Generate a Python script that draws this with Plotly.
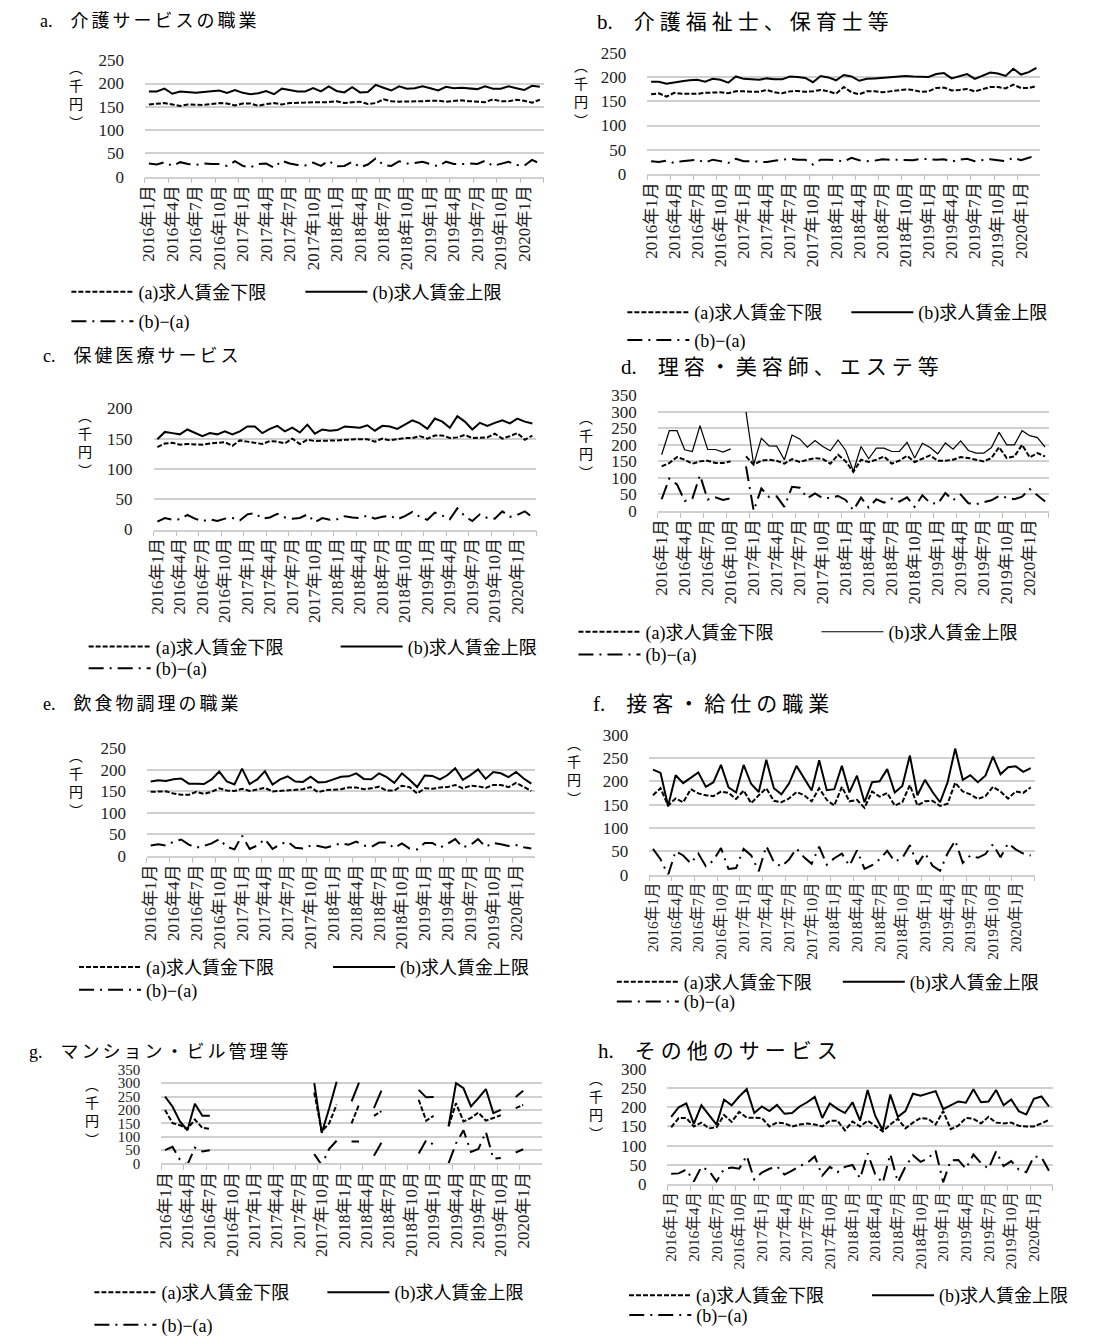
import plotly.graph_objects as go

W, H = 1110, 1344

months = [f"{y}年{m}月" for y in range(2016, 2021) for m in range(1, 13)][:51]

# ---------------- data (千円) ----------------
a_low = [155,157,158,155,152,155,155,154,156,158, 157,153,157,157,152,156,158,155,158,158,
         159,160,160,160,162,158,160,161,156,158, 166,162,161,161,161,162,163,163,161,163,
         164,162,161,160,166,162,162,165,163,159, 165]
a_high = [183,183,189,178,183,182,180,182,183,185, 180,186,180,177,179,184,177,189,186,183,
          183,190,183,194,184,181,192,181,182,197, 191,185,194,189,190,194,190,185,193,190,
          191,190,188,194,189,189,194,190,186,195, 193]

b_low = [165,167,160,168,166,166,166,168,168,169, 167,171,171,170,170,174,169,167,171,172,
         170,171,174,171,166,180,169,165,171,171, 169,171,173,175,174,170,171,178,179,173,
         174,176,171,176,180,180,177,185,178,178, 182]
b_high = [191,191,187,190,192,194,195,191,197,195, 189,202,197,196,195,198,196,196,202,201,
          199,190,203,200,194,205,202,193,197,198, 199,200,202,203,202,201,201,207,209,198,
          203,207,197,204,210,208,203,218,206,211, 220]

c_low = [136,142,143,140,141,141,140,142,143,144, 138,147,145,143,141,146,145,142,150,141,
         148,146,146,147,147,148,149,149,149,145, 150,147,149,151,151,154,150,155,155,151,
         152,156,151,151,152,158,150,154,159,148, 155]
c_high = [149,161,159,157,165,159,154,159,157,162, 157,162,170,170,159,166,171,162,168,160,
          173,158,165,163,164,170,169,168,172,163, 171,170,166,173,180,175,166,183,178,168,
          187,178,165,176,171,176,180,175,183,178, 175]

d_low = [135,145,163,155,143,150,152,145,145,150, None,165,140,152,155,152,143,157,148,155,
         160,157,143,170,150,118,155,148,155,165, 143,152,167,148,158,168,152,152,155,163,
         160,155,150,160,193,160,165,200,162,175, 165]
d_high = [170,243,243,185,180,258,186,186,178,188, None,300,140,220,197,196,155,230,218,193,
          213,195,182,215,183,120,195,158,190,190, 180,180,208,160,205,192,173,206,187,212,
          183,175,175,192,238,200,200,243,228,222, 193]

e_low = [149,149,150,145,142,142,149,144,149,157, 152,151,156,151,154,158,150,151,152,154,
         155,160,148,153,154,155,159,159,155,157, 161,152,152,163,160,145,157,156,159,160,
         165,157,163,162,158,165,165,160,170,160, 151]
e_high = [173,176,174,178,180,168,168,167,178,196, 173,166,203,167,178,197,166,178,185,173,
          172,184,171,172,178,184,185,192,179,178, 192,183,170,192,177,160,187,186,178,188,
          204,177,188,201,179,195,192,183,195,180, 168]

f_low = [170,185,148,163,155,183,174,170,168,178, 175,162,180,153,170,185,158,155,163,177,
         170,157,185,160,148,188,157,160,143,178, 167,175,148,155,192,148,157,158,147,152,
         197,178,172,162,168,188,178,163,178,175, 187]
f_high = [225,218,147,213,196,207,219,188,198,235, 187,176,235,194,177,246,185,172,195,233,
          207,180,245,181,183,233,176,212,155,198, 200,226,176,190,255,170,203,177,155,198,
          270,203,213,198,212,253,215,230,232,220, 228]

g_low = [200,151,143,129,164,133,129,None,None,None, None,None,None,None,None,None,None,None,None,None,
         265,120,150,220,None,150,220,None,178,195, None,None,None,None,238,160,178,None,139,225,
         157,170,190,160,170,180,None,207,219,None, None]
g_high = [250,213,157,124,223,178,178,None,None,None, None,None,None,None,None,None,None,None,None,None,
          300,114,205,305,None,232,302,None,207,272, None,None,None,None,275,247,248,None,139,300,
          281,213,244,278,188,200,None,248,272,None, None]

h_low = [148,172,172,150,160,145,148,180,162,188, 173,173,172,150,160,158,150,155,158,155,
         150,165,165,140,163,150,165,152,137,155, 170,145,160,172,170,155,190,143,152,172,
         170,158,175,160,158,160,152,150,150,158, 167]
h_high = [175,200,210,157,205,180,155,220,205,228, 247,185,202,190,206,183,185,202,213,227,
          172,210,196,185,213,165,245,178,140,233, 175,190,235,230,237,242,195,205,215,212,
          247,213,215,245,205,220,190,181,222,228, 202]

title_letters = ["a.", "b.", "c.", "d.", "e.", "f.", "g.", "h."]
title_texts = ["介護サービスの職業", "介護福祉士、保育士等", "保健医療サービス",
               "理容・美容師、エステ等", "飲食物調理の職業", "接客・給仕の職業",
               "マンション・ビル管理等", "その他のサービス"]
lows = [a_low, b_low, c_low, d_low, e_low, f_low, g_low, h_low]
highs = [a_high, b_high, c_high, d_high, e_high, f_high, g_high, h_high]
ymaxs = [250, 250, 200, 350, 250, 300, 350, 300]

name_low = "(a)求人賃金下限"
name_high = "(b)求人賃金上限"
name_diff = "(b)−(a)"

# ---------------- geometry / styling (px) ----------------
geom = [
    dict(x0=145, x1=561, yt=52, yb=170, tx=33, ty=12, ux=73, uy=87, l1=287, l2=317, lx=68, lx2=302, tf=17, yf=17, hf=18, ls=3),
    dict(x0=669, x1=1079, yt=45, yb=167, tx=614, ty=13, ux=600, uy=85, l1=308, l2=336, lx=648, lx2=872, tf=17, yf=17, hf=21, ls=5),
    dict(x0=154, x1=553, yt=405, yb=528, tx=37, ty=352, ux=82, uy=440, l1=647, l2=669, lx=86, lx2=338, tf=17, yf=17, hf=18, ls=3),
    dict(x0=680, x1=1088, yt=392, yb=509, tx=640, ty=363, ux=605, uy=442, l1=632, l2=655, lx=597, lx2=840, tf=17, yf=17, hf=21, ls=5),
    dict(x0=147, x1=552, yt=750, yb=859, tx=37, ty=705, ux=73, uy=785, l1=972, l2=995, lx=76, lx2=330, tf=17, yf=17, hf=18, ls=3),
    dict(x0=671, x1=1073, yt=736, yb=878, tx=610, ty=705, ux=593, uy=772, l1=987, l2=1007, lx=637, lx2=863, tf=15.5, yf=17, hf=21, ls=5),
    dict(x0=162, x1=559, yt=1076, yb=1171, tx=22, ty=1058, ux=90, uy=1118, l1=1302, l2=1335, lx=92, lx2=325, tf=17, yf=15, hf=18, ls=3),
    dict(x0=690, x1=1092, yt=1075, yb=1192, tx=615, ty=1057, ux=615, uy=1112, l1=1305, l2=1325, lx=650, lx2=893, tf=15.5, yf=17, hf=21, ls=5),
]

SERIF = "Liberation Serif, Noto Sans CJK JP, serif"
SANS_JP = "Noto Sans CJK JP"
ITEMW = 62

fig = go.Figure()
layout = dict(width=W, height=H, margin=dict(l=0, r=0, t=0, b=0), autosize=False,
              paper_bgcolor="white", plot_bgcolor="white", showlegend=True)
annotations = []

for k in range(8):
    g = geom[k]
    n = k + 1
    xa = "x" if n == 1 else f"x{n}"
    ya = "y" if n == 1 else f"y{n}"
    leg1 = "legend" if n == 1 else f"legend{2*n-1}"
    leg2 = f"legend{2*n}"
    low, high = lows[k], highs[k]
    diff = [(h - l) if (h is not None and l is not None) else None for l, h in zip(low, high)]
    hw = 1.2 if k == 3 else 2
    fig.add_trace(go.Scatter(x=months, y=low, name=name_low, mode="lines", connectgaps=False,
                             line=dict(color="black", width=2, dash="5px,2px"),
                             xaxis=xa, yaxis=ya, legend=leg1))
    fig.add_trace(go.Scatter(x=months, y=high, name=name_high, mode="lines", connectgaps=False,
                             line=dict(color="black", width=hw),
                             xaxis=xa, yaxis=ya, legend=leg1))
    fig.add_trace(go.Scatter(x=months, y=diff, name=name_diff, mode="lines", connectgaps=False,
                             line=dict(color="black", width=2, dash="15px,6px,2px,6px"),
                             xaxis=xa, yaxis=ya, legend=leg2))

    xkey = "xaxis" if n == 1 else f"xaxis{n}"
    ykey = "yaxis" if n == 1 else f"yaxis{n}"
    layout[xkey] = dict(domain=[g["x0"] / W, g["x1"] / W], anchor=ya, type="category",
                        categoryorder="array", categoryarray=months,
                        tickmode="linear", tick0=0, dtick=3, tickson="boundaries",
                        tickangle=-90, ticks="outside", ticklen=5, tickcolor="#bfbfbf",
                        showline=True, linecolor="#d0d0d0", linewidth=1.5,
                        showgrid=False, zeroline=False, range=[-0.5, 50.5],
                        tickfont=dict(family=SERIF, size=g["tf"], color="#222"))
    layout[ykey] = dict(domain=[1 - g["yb"] / H, 1 - g["yt"] / H], anchor=xa,
                        range=[0, ymaxs[k]], tickmode="linear", tick0=0, dtick=50,
                        showgrid=True, gridcolor="#d0d0d0", gridwidth=1.5, zeroline=False,
                        showline=False, ticks="", ticklabelstandoff=20,
                        tickfont=dict(family=SERIF, size=g["yf"], color="#222"))
    legfont = dict(family=SERIF, size=18, color="black")
    layout[leg1] = dict(x=(g["lx"] - 5) / W, y=1 - g["l1"] / H, xanchor="left", yanchor="middle",
                        orientation="h", bgcolor="rgba(0,0,0,0)", font=legfont,
                        itemwidth=ITEMW, entrywidth=g["lx2"] - g["lx"] - ITEMW - 15,
                        traceorder="normal", borderwidth=0)
    layout[leg2] = dict(x=(g["lx"] - 5) / W, y=1 - g["l2"] / H, xanchor="left", yanchor="middle",
                        orientation="h", bgcolor="rgba(0,0,0,0)", font=legfont,
                        itemwidth=ITEMW, traceorder="normal", borderwidth=0)
    # panel title
    ttl = f'{title_letters[k]}　<span style="letter-spacing:{g["ls"]}px">{title_texts[k]}</span>'
    annotations.append(dict(text=ttl, x=g["tx"] / W, y=1 - g["ty"] / H, xref="paper", yref="paper",
                            xanchor="left", yanchor="middle", showarrow=False,
                            font=dict(family=SERIF, size=g["hf"], color="black")))
    # y axis unit label (vertical)
    annotations.append(dict(text="︵<br>千<br>円<br>︶", x=g["ux"] / W, y=1 - g["uy"] / H,
                            xref="paper", yref="paper", xanchor="center", yanchor="middle",
                            showarrow=False, font=dict(family=SANS_JP, size=14, color="black")))

layout["annotations"] = annotations
fig.update_layout(**layout)
fig.write_html("out.html")
